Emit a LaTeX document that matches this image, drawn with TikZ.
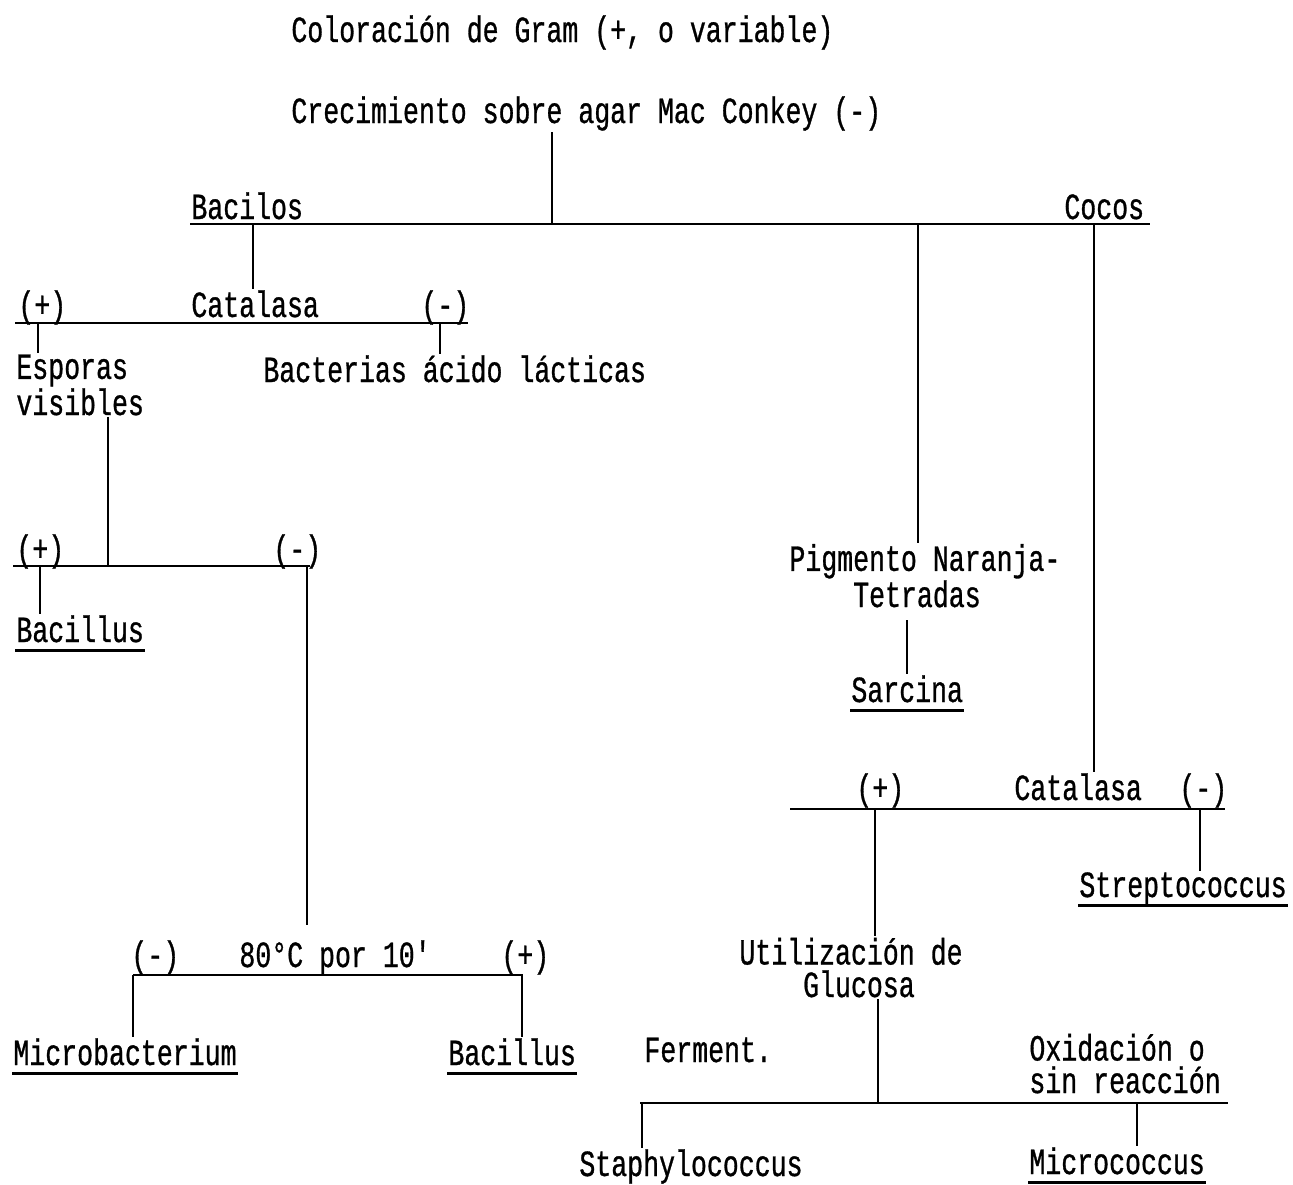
\documentclass[tikz,border=0pt]{standalone}
\usepackage{fontspec}
\setmainfont{Liberation Mono}[FakeStretch=0.72, FakeBold=0.8, Ligatures=TeXOff]
\usepackage{tikz}

\begin{document}
\begin{tikzpicture}[
    x=0.02cm, y=-0.02cm, line width=1.6pt,
    every node/.style={inner sep=0pt, anchor=base west,
      font=\fontsize{21}{18.5}\selectfont}
  ]
  \tikzset{
    genero/.style={append after command={
        ([yshift=-5pt]\tikzlastnode.base west) edge[line width=1.6pt]
        ([yshift=-5pt]\tikzlastnode.base east)}},
    parrafo/.style={align=left}
  }
  \useasboundingbox (0,0) rectangle (1293,1184);

  % textos
  \node (gram) at (290,42) {Coloración de Gram (+, o variable)};
  \node (crec) at (290,123) {Crecimiento sobre agar Mac Conkey (-)};
  \node (bacilos) at (190,219) {Bacilos};
  \node (cocos) at (1063,219) {Cocos};

  \node (cat1) at (190,317) {Catalasa};
  \node (cat1pos) at (17,317) {(+)};
  \node (cat1neg) at (420,317) {(-)};
  \node[parrafo] (esporas) at (15,415) {Esporas\\visibles};
  \node (lacticas) at (262,382) {Bacterias ácido lácticas};

  \node (esppos) at (15,561) {(+)};
  \node (espneg) at (272,561) {(-)};
  \node[genero] (bacillusA) at (15,642) {Bacillus};

  \node (calor) at (238,967) {80°C por 10'};
  \node (calorneg) at (130,967) {(-)};
  \node (calorpos) at (500,967) {(+)};
  \node[genero] (microbact) at (12,1065) {Microbacterium};
  \node[genero] (bacillusB) at (447,1065) {Bacillus};

  \node[parrafo] (pigmento) at (788,607) {Pigmento Naranja-\\\phantom{xxxx}Tetradas};
  \node[genero] (sarcina) at (850,702) {Sarcina};

  \node (cat2) at (1013,800) {Catalasa};
  \node (cat2pos) at (855,800) {(+)};
  \node (cat2neg) at (1178,800) {(-)};
  \node[genero] (strepto) at (1078,897) {Streptococcus};
  \node[parrafo] (glucosa) at (738,997) {Utilización de\\\phantom{xxxx}Glucosa};

  \node (ferment) at (643,1062) {Ferment.};
  \node[parrafo] (oxid) at (1028,1093) {Oxidación o\\sin reacción};
  \node (staphylo) at (578,1176) {Staphylococcus};
  \node[genero] (micro) at (1028,1174) {Micrococcus};

  % barras horizontales
  \coordinate (b1w) at (190,224);  \coordinate (b1e) at (1150,224);
  \coordinate (b2w) at (15,323);   \coordinate (b2e) at (468,323);
  \coordinate (b3w) at (13,566);   \coordinate (b3e) at (310,566);
  \coordinate (b4w) at (133,975);  \coordinate (b4e) at (523,975);
  \coordinate (b5w) at (790,809);  \coordinate (b5e) at (1225,809);
  \coordinate (b6w) at (640,1103); \coordinate (b6e) at (1228,1103);
  \foreach \b in {1,...,6}
    \draw (b\b w) -- (b\b e);

  % uniones sobre las barras
  \coordinate (j1) at (552,224);
  \coordinate (j2) at (253,224);
  \coordinate (j3) at (918,224);
  \coordinate (j4) at (1094,224);
  \coordinate (j5) at (38,323);
  \coordinate (j6) at (440,323);
  \coordinate (j7) at (108,566);
  \coordinate (j8) at (40,566);
  \coordinate (j9) at (307,566);
  \coordinate (j10) at (133,975);
  \coordinate (j11) at (522,975);
  \coordinate (j12) at (875,809);
  \coordinate (j13) at (1200,809);
  \coordinate (j14) at (878,1103);
  \coordinate (j15) at (642,1103);
  \coordinate (j16) at (1137,1103);
  \coordinate (j17) at (907,620);

  % conectores
  \draw (crec.south -| j1) -- (j1);
  \draw (j2) -- (j2 |- cat1.north);
  \draw (j5) -- (j5 |- esporas.north);
  \draw (j6) -- (j6 |- lacticas.north);
  \draw (esporas.south -| j7) -- (j7);
  \draw (j8) -- (j8 |- bacillusA.north);
  \draw (j9) -- ([yshift=8pt]j9 |- calor.north);
  \draw (j10) -- (j10 |- microbact.north);
  \draw (j11) -- (j11 |- bacillusB.north);
  \draw (j3) -- (j3 |- pigmento.north);
  \draw (j17) -- (j17 |- sarcina.north);
  \draw (j4) -- (j4 |- cat2.north);
  \draw (j12) -- (j12 |- glucosa.north);
  \draw (j13) -- (j13 |- strepto.north);
  \draw (glucosa.south -| j14) -- (j14);
  \draw (j15) -- (j15 |- staphylo.north);
  \draw (j16) -- (j16 |- micro.north);
\end{tikzpicture}
\end{document}
